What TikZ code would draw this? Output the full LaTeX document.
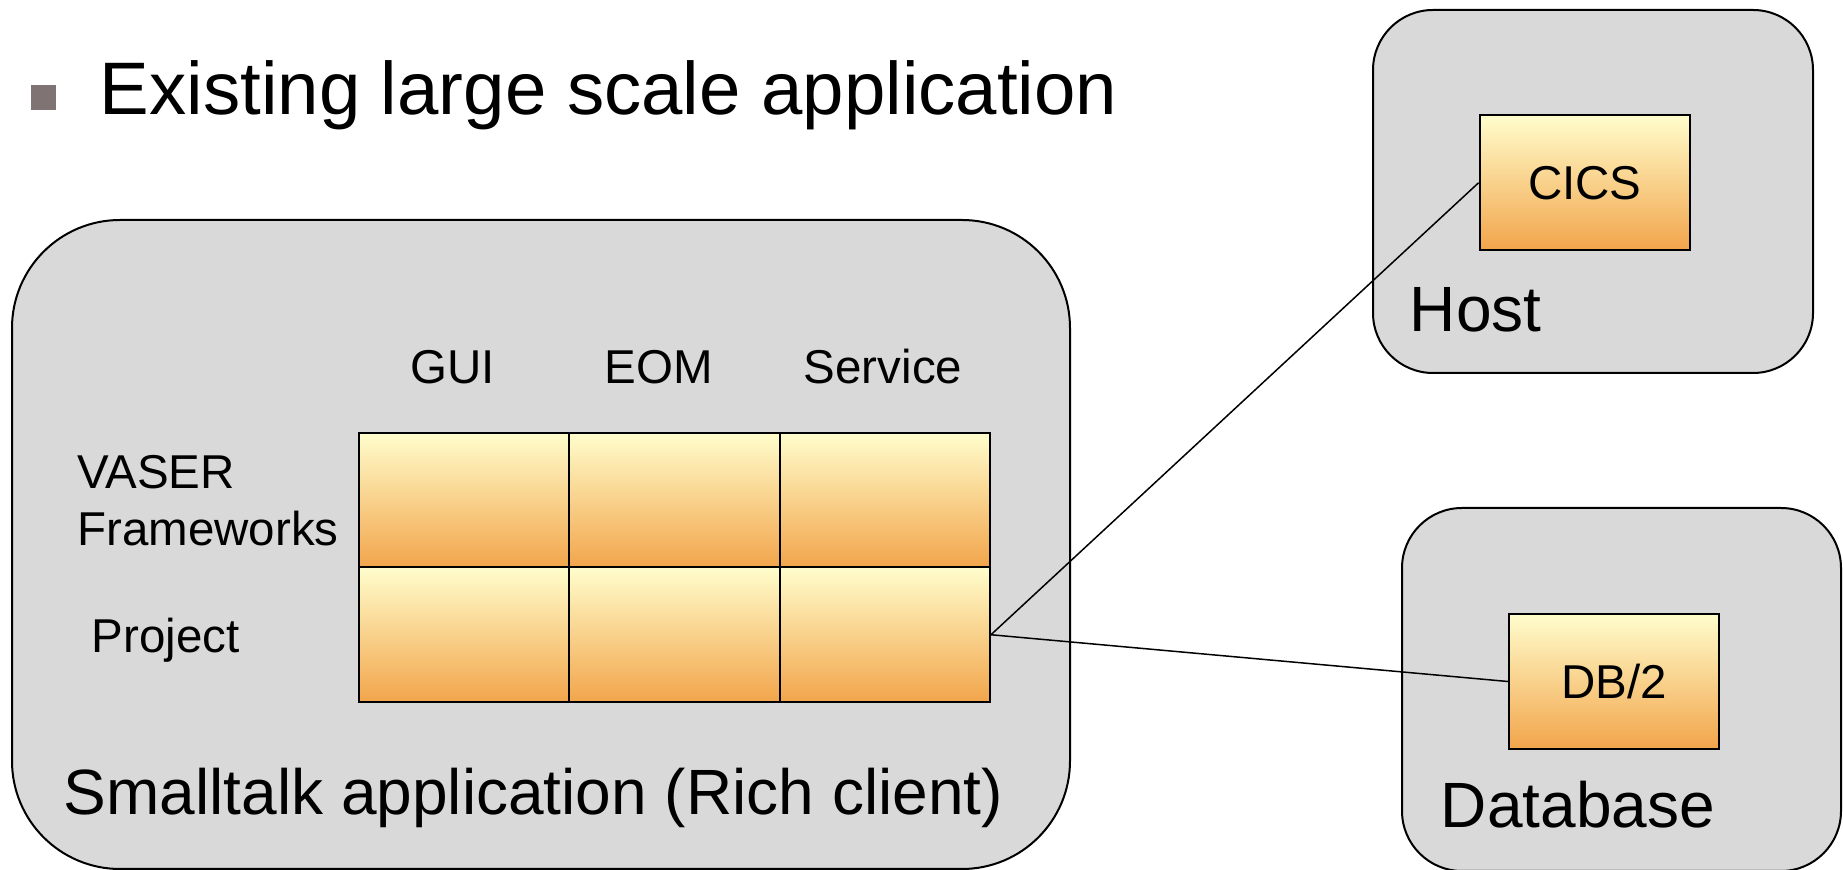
\documentclass[tikz,border=0pt]{standalone}
\usepackage{fontspec}
\setmainfont{Liberation Sans}
\definecolor{boxgrey}{HTML}{D9D9D9}
\definecolor{celltop}{HTML}{FFFDCC}
\definecolor{cellbot}{HTML}{F2A54B}
\definecolor{bulletc}{HTML}{807373}
\begin{document}
\begin{tikzpicture}[x=0.5pt,y=-0.5pt,
  panel/.style={draw=black,line width=1pt,fill=boxgrey,rounded corners=#1,inner sep=0pt},
  cell/.style={draw=black,line width=1pt,top color=celltop,bottom color=cellbot,
    minimum width=105.15pt,minimum height=67.25pt,inner sep=0pt},
  lbl/.style={inner sep=0pt,font=\fontsize{23.75pt}{28pt}\selectfont},
  big/.style={inner sep=0pt,font=\fontsize{32pt}{38pt}\selectfont},
  ttl/.style={inner sep=0pt,font=\fontsize{37.2pt}{44pt}\selectfont},
  link/.style={draw=black,line width=0.75pt}]
\clip (0,0) rectangle (1843,870);
\fill[white] (0,0) rectangle (1843,870);
% title
\node[fill=bulletc,minimum size=12.5pt,inner sep=0pt] (bullet) at (43.5,97.5) {};
\node[ttl,anchor=base west] (title) at (99.5,115) {Existing large scale application};
% panels
\node[panel=54pt,minimum width=529pt,minimum height=324.5pt] (app) at (541,544.5) {};
\node[panel=30pt,minimum width=220pt,minimum height=181.5pt] (host) at (1593,191.5) {};
\node[panel=30pt,minimum width=219.5pt,minimum height=181.5pt] (dbp) at (1621.5,689.5) {};
% grid cells
\node[cell] (c11) at (464.2,500.25) {};
\node[cell] (c12) at (674.5,500.25) {};
\node[cell] (c13) at (884.8,500.25) {};
\node[cell] (c21) at (464.2,634.75) {};
\node[cell] (c22) at (674.5,634.75) {};
\node[cell] (c23) at (884.8,634.75) {};
% host / database boxes
\node[cell,font=\fontsize{23.75pt}{28pt}\selectfont] (cics) at (1584.75,182.75) {CICS};
\node[cell,font=\fontsize{23.75pt}{28pt}\selectfont] (db2) at (1614,681.5) {DB/2};
% labels
\node[lbl,anchor=base] (gui) at (452.5,384) {GUI};
\node[lbl,anchor=base] (eom) at (659,384) {EOM};
\node[lbl,anchor=base] (svc) at (883,384) {Service};
\node[lbl,anchor=base west] (vaser) at (77,488.5) {VASER};
\node[lbl,anchor=base west] (fw) at (77,546) {Frameworks};
\node[lbl,anchor=base west] (proj) at (91.5,653) {Project};
\node[big,anchor=base west] (applbl) at (63.5,815) {Smalltalk application (Rich client)};
\node[big,anchor=base west] (hostlbl) at (1409.5,332) {Host};
\node[big,anchor=base west] (dblbl) at (1440.5,828) {Database};
% connectors
\draw[link] (c23.east) -- (cics.west);
\draw[link] (c23.east) -- (db2.west);
\end{tikzpicture}
\end{document}
